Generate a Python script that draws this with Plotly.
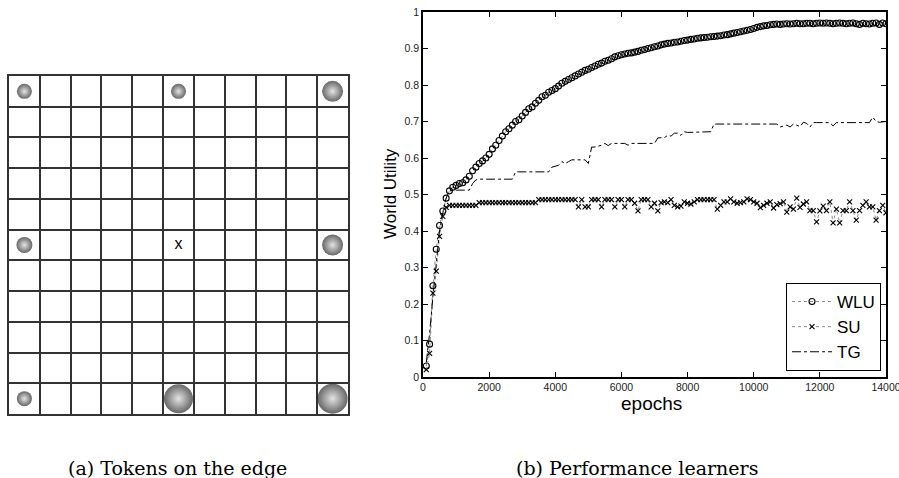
import plotly.graph_objects as go

# ---------------- data ----------------
epochs = list(range(100, 14001, 100))

wlu = [0.03, 0.09, 0.25, 0.35, 0.415, 0.455, 0.49, 0.51, 0.52, 0.525,
       0.53, 0.532, 0.54, 0.55, 0.565, 0.575, 0.585, 0.592, 0.60, 0.61,
       0.625, 0.635, 0.648, 0.66, 0.672, 0.68, 0.69, 0.70, 0.705, 0.715,
       0.725, 0.735, 0.74, 0.75, 0.758, 0.768, 0.772, 0.78, 0.785, 0.79,
       0.797, 0.805, 0.81, 0.815, 0.82, 0.825, 0.83, 0.835, 0.84, 0.843,
       0.848, 0.852, 0.857, 0.86, 0.865, 0.868, 0.872, 0.877, 0.88, 0.883,
       0.885, 0.887, 0.888, 0.89, 0.892, 0.895, 0.897, 0.90, 0.902, 0.905,
       0.907, 0.91, 0.912, 0.914, 0.915, 0.917, 0.918, 0.92, 0.922, 0.923,
       0.925, 0.926, 0.928, 0.929, 0.93, 0.931, 0.932, 0.933, 0.934, 0.935,
       0.937, 0.938, 0.94, 0.942, 0.944, 0.946, 0.948, 0.95, 0.952, 0.955,
       0.958, 0.96, 0.962, 0.963, 0.965, 0.966, 0.967, 0.966, 0.967, 0.968,
       0.967, 0.968, 0.969, 0.968, 0.968, 0.969, 0.969, 0.968, 0.969, 0.97,
       0.969, 0.97, 0.969, 0.968, 0.969, 0.97, 0.969, 0.968, 0.969, 0.97,
       0.968, 0.966, 0.969, 0.968, 0.967, 0.969, 0.97, 0.966, 0.97, 0.968]

su = [0.02, 0.065, 0.23, 0.29, 0.385, 0.44, 0.465, 0.47, 0.47, 0.47,
      0.47, 0.47, 0.47, 0.47, 0.47, 0.47, 0.478, 0.478, 0.478, 0.478,
      0.478, 0.478, 0.478, 0.478, 0.478, 0.478, 0.478, 0.478, 0.478, 0.478,
      0.478, 0.478, 0.478, 0.478, 0.486, 0.486, 0.486, 0.486, 0.486, 0.486,
      0.486, 0.486, 0.486, 0.486, 0.486, 0.486, 0.466, 0.486, 0.466, 0.466,
      0.486, 0.486, 0.486, 0.466, 0.486, 0.486, 0.486, 0.466, 0.486, 0.486,
      0.466, 0.486, 0.486, 0.476, 0.455, 0.486, 0.486, 0.486, 0.466, 0.476,
      0.455, 0.478, 0.48, 0.478, 0.486, 0.47, 0.466, 0.468, 0.48, 0.476,
      0.474, 0.48, 0.486, 0.486, 0.486, 0.486, 0.486, 0.486, 0.46, 0.47,
      0.48, 0.48, 0.488, 0.48, 0.476, 0.478, 0.48, 0.488, 0.486, 0.48,
      0.476, 0.464, 0.47, 0.476, 0.48, 0.463, 0.472, 0.475, 0.48, 0.452,
      0.466, 0.46, 0.49, 0.465, 0.474, 0.48, 0.456, 0.456, 0.425, 0.455,
      0.468, 0.456, 0.48, 0.422, 0.46, 0.422, 0.456, 0.456, 0.48, 0.456,
      0.43, 0.456, 0.47, 0.48, 0.466, 0.466, 0.43, 0.456, 0.47, 0.45]

tg = [0.04, 0.12, 0.22, 0.32, 0.40, 0.45, 0.49, 0.51, 0.512, 0.512,
      0.512, 0.512, 0.512, 0.512, 0.53, 0.54, 0.542, 0.542, 0.542, 0.542,
      0.542, 0.542, 0.542, 0.542, 0.542, 0.542, 0.542, 0.562, 0.562, 0.562,
      0.562, 0.562, 0.562, 0.562, 0.562, 0.562, 0.562, 0.562, 0.575, 0.578,
      0.58, 0.59, 0.585, 0.59, 0.595, 0.595, 0.595, 0.595, 0.595, 0.585,
      0.63, 0.63, 0.632, 0.635, 0.64, 0.634, 0.64, 0.64, 0.64, 0.64,
      0.64, 0.635, 0.64, 0.64, 0.64, 0.64, 0.64, 0.64, 0.64, 0.64,
      0.655, 0.656, 0.656, 0.662, 0.66, 0.668, 0.668, 0.662, 0.672, 0.67,
      0.67, 0.672, 0.672, 0.672, 0.672, 0.672, 0.672, 0.693, 0.693, 0.693,
      0.693, 0.693, 0.693, 0.693, 0.693, 0.693, 0.693, 0.693, 0.693, 0.693,
      0.693, 0.693, 0.693, 0.693, 0.693, 0.693, 0.693, 0.685, 0.687, 0.69,
      0.685, 0.693, 0.69, 0.686, 0.698, 0.695, 0.685, 0.697, 0.697, 0.697,
      0.697, 0.697, 0.697, 0.688, 0.697, 0.697, 0.697, 0.697, 0.697, 0.697,
      0.697, 0.697, 0.697, 0.697, 0.697, 0.712, 0.70, 0.698, 0.70, 0.70]

x_ticks = [0, 2000, 4000, 6000, 8000, 10000, 12000, 14000]
x_tick_labels = ["0", "2000", "4000", "6000", "8000", "10000", "12000", "14000"]
y_ticks = [0, 0.1, 0.2, 0.3, 0.4, 0.5, 0.6, 0.7, 0.8, 0.9, 1]
y_tick_labels = ["0", "0.1", "0.2", "0.3", "0.4", "0.5", "0.6", "0.7", "0.8", "0.9", "1"]

# grid panel: 11 x 11 board, tokens (column, row from top, size class)
grid_n = 11
ball_cols = [0, 5, 10, 0, 10, 0, 5, 10]
ball_rows = [0, 0, 0, 5, 5, 10, 10, 10]
ball_sizes = [15, 15, 21, 16, 21, 15, 29, 30]
agent_col = [5]
agent_row = [5]

# ---------------- figure ----------------
W, H = 899, 478
fig = go.Figure()

# left panel: balls
fig.add_trace(go.Scatter(
    x=[c + 0.5 for c in ball_cols], y=[r + 0.5 for r in ball_rows],
    mode="markers", xaxis="x2", yaxis="y2", showlegend=False, hoverinfo="skip",
    marker=dict(size=ball_sizes, color="#262626",
                gradient=dict(type="radial", color="#d8d8d8"),
                line=dict(width=0)),
))
fig.add_trace(go.Scatter(
    x=[c + 0.5 for c in agent_col], y=[r + 0.5 for r in agent_row],
    mode="text", text=["x"], xaxis="x2", yaxis="y2", showlegend=False,
    textfont=dict(family="Liberation Sans, Arial", size=16, color="black"),
    hoverinfo="skip",
))

# right panel
fig.add_trace(go.Scatter(
    x=epochs, y=wlu, name="WLU", mode="lines+markers",
    line=dict(color="#8a8a8a", width=1, dash="dot"),
    marker=dict(symbol="circle-open", size=6, color="black", line=dict(width=1.1, color="black")),
))
fig.add_trace(go.Scatter(
    x=epochs, y=su, name="SU", mode="lines+markers",
    line=dict(color="#8a8a8a", width=1, dash="dot"),
    marker=dict(symbol="x-thin", size=5, color="black", line=dict(width=1.1, color="black")),
))
fig.add_trace(go.Scatter(
    x=epochs, y=tg, name="TG", mode="lines",
    line=dict(color="black", width=1, dash="dashdot"),
))

# domains from pixel geometry
def px_x(p):
    return p / W

def px_y(p):
    return (H - p) / H

tickfont = dict(family="Liberation Sans, Arial", size=10.5, color="#222")

def ann(text, x, y, size, family, angle=0):
    return dict(text=text, x=px_x(x), y=px_y(y), xref="paper", yref="paper",
                xanchor="center", yanchor="middle", textangle=angle, showarrow=False,
                font=dict(family=family, size=size, color="black"))

fig.update_layout(
    width=W, height=H,
    margin=dict(l=0, r=0, t=0, b=0, autoexpand=False),
    paper_bgcolor="white", plot_bgcolor="white",
    xaxis=dict(domain=[px_x(423), px_x(886)], range=[0, 14000], automargin=False,
               tickvals=x_ticks, ticktext=x_tick_labels, ticks="inside", ticklen=5,
               tickcolor="black", ticklabeloverflow="allow",
               showline=True, linecolor="black", linewidth=1.5, mirror="ticks",
               showgrid=False, zeroline=False, tickfont=tickfont),
    yaxis=dict(domain=[px_y(377), px_y(12)], range=[0, 1], automargin=False,
               tickvals=y_ticks, ticktext=y_tick_labels, ticks="inside", ticklen=5,
               tickcolor="black",
               showline=True, linecolor="black", linewidth=1.5, mirror="ticks",
               showgrid=False, zeroline=False, tickfont=tickfont),
    xaxis2=dict(domain=[px_x(9), px_x(348)], range=[0, grid_n], anchor="y2",
                automargin=False,
                tick0=0, dtick=1, showgrid=True, gridcolor="#333333", gridwidth=1.5,
                showline=True, linecolor="#333333", linewidth=1.5, mirror=True,
                zeroline=False, showticklabels=False, ticks=""),
    yaxis2=dict(domain=[px_y(414), px_y(76)], range=[grid_n, 0], anchor="x2",
                automargin=False,
                tick0=0, dtick=1, showgrid=True, gridcolor="#333333", gridwidth=1.5,
                showline=True, linecolor="#333333", linewidth=1.5, mirror=True,
                zeroline=False, showticklabels=False, ticks=""),
    legend=dict(x=px_x(881), y=px_y(371), xanchor="right", yanchor="bottom",
                bgcolor="white", bordercolor="black", borderwidth=1,
                font=dict(family="Liberation Sans, Arial", size=17, color="black"),
                tracegroupgap=0, itemwidth=40),
    annotations=[
        ann("World Utility", 390, 194, 17, "Liberation Sans, Arial", -90),
        ann("epochs", 651, 403, 19, "Liberation Sans, Arial"),
        ann("(a) Tokens on the edge", 177, 468, 19, "DejaVu Serif"),
        ann("(b) Performance learners", 637, 468, 19, "DejaVu Serif"),
    ],
)

fig.write_html("out.html", config={"displayModeBar": False},
               post_script="document.body.style.margin='0';document.body.style.padding='0';")
